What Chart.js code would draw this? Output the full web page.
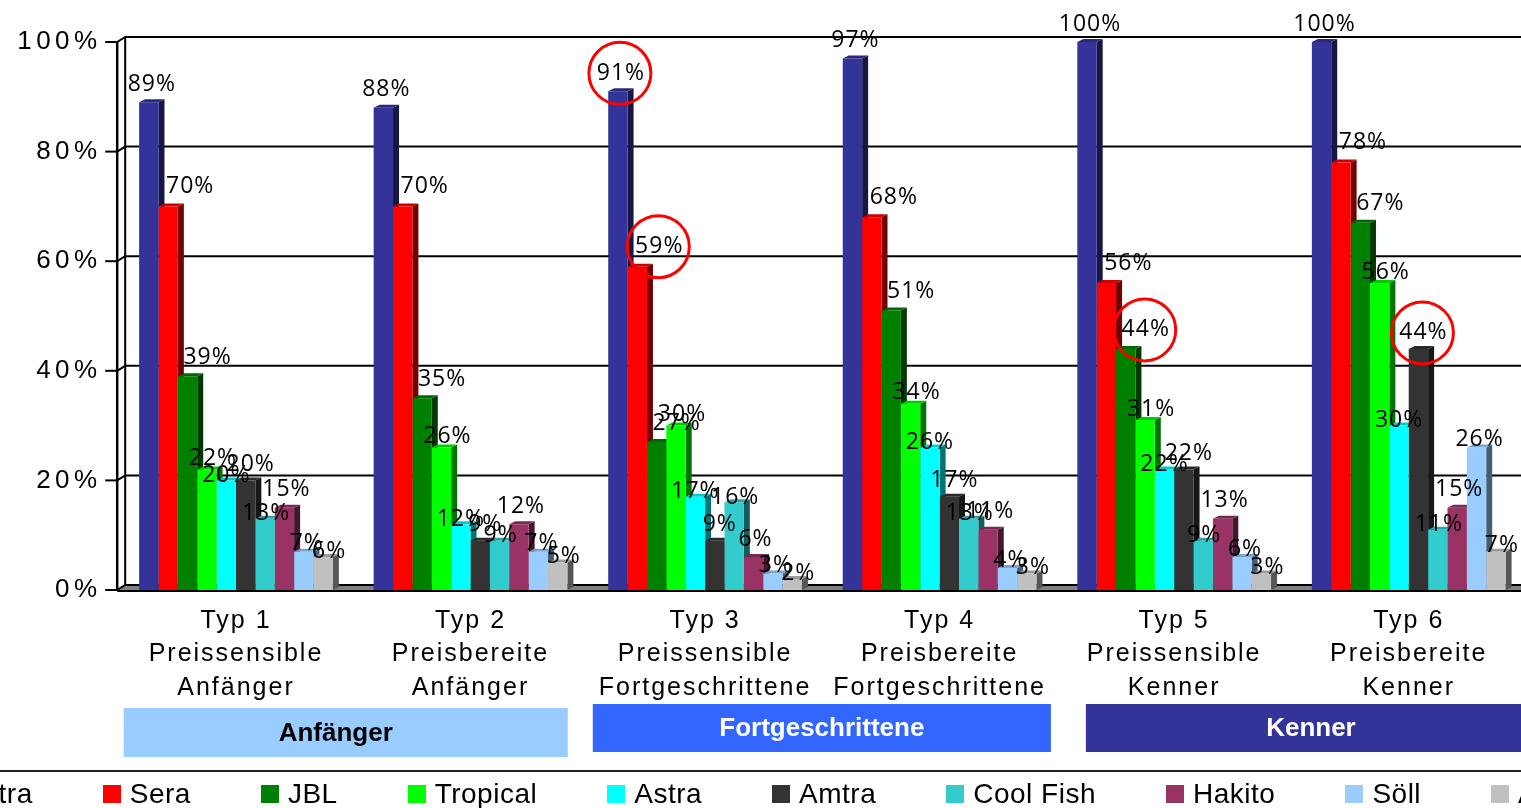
<!DOCTYPE html>
<html><head><meta charset="utf-8">
<script src="https://cdn.jsdelivr.net/npm/chart.js@4.4.0/dist/chart.umd.min.js"></script>
<style>
html,body{margin:0;padding:0;background:#fff;overflow:hidden;width:1521px;height:808px;}
#wrap{position:absolute;left:0;top:0;width:1526px;height:808px;}
#legendLine{position:absolute;left:0;top:770px;width:1521px;height:2px;background:#222;}
#legend{position:absolute;left:-59px;top:778px;display:flex;white-space:nowrap;font:28px "Liberation Sans",Arial,sans-serif;letter-spacing:0.5px;line-height:32px;color:#000;}
.item{display:flex;align-items:center;margin-right:70px;}
.sw{width:18px;height:18px;margin-right:9px;flex:none;}
</style></head><body>
<div id="wrap"><canvas id="c" width="1526" height="808"></canvas></div>
<div id="legendLine"></div>
<div id="legend"></div>
<script>
// ---------- data ----------
const categories = [
  ['Typ 1','Preissensible','Anfänger'],
  ['Typ 2','Preisbereite','Anfänger'],
  ['Typ 3','Preissensible','Fortgeschrittene'],
  ['Typ 4','Preisbereite','Fortgeschrittene'],
  ['Typ 5','Preissensible','Kenner'],
  ['Typ 6','Preisbereite','Kenner']
];
const seriesNames = ['Tetra','Sera','JBL','Tropical','Astra','Amtra','Cool Fish','Hakito','Söll','Aquarian'];
const tetra    = [89, 88, 91, 97, 100, 100];
const sera     = [70, 70, 59, 68, 56, 78];
const jbl      = [39, 35, 27, 51, 44, 67];
const tropical = [22, 26, 30, 34, 31, 56];
const astra    = [20, 12, 17, 26, 22, 30];
const amtra    = [20, 9, 9, 17, 22, 44];
const coolFish = [13, 9, 16, 13, 9, 11];
const hakito   = [15, 12, 6, 11, 13, 15];
const soell    = [7, 7, 3, 4, 6, 26];
const aquarian = [6, 5, 2, 3, 3, 7];
const seriesValues = [tetra, sera, jbl, tropical, astra, amtra, coolFish, hakito, soell, aquarian];
const yTickLabels = ['0%','20%','40%','60%','80%','100%'];
const groupLabels = ['Anfänger','Fortgeschrittene','Kenner'];
const groupRanges = [[0,1],[2,3],[4,5]];
const highlights = [{series:0, cat:2},{series:1, cat:2},{series:2, cat:4},{series:5, cat:5}];

// ---------- styles ----------
const colors = ['#333399','#FF0000','#008000','#00FF00','#00FFFF','#333333','#33CCCC','#993366','#99CCFF','#C0C0C0'];
const labelDx   = [3, 22, 20, 6, 0, 5, 1, 2, 3, 6];
const labelLift = [18, 20, 19, 11, 5, 16, 5, 18, 8, 6];
const bandStyle = [
  {fill:'#99CCFF', text:'#000', inL:5,  inR:20, top:708, h:49, tdx:-10},
  {fill:'#3366FF', text:'#fff', inL:5,  inR:6,  top:704, h:48, tdx:0},
  {fill:'#333399', text:'#fff', inL:29, inR:-10, top:704, h:48, tdx:0}
];
const DEPTH = {dx:6, dy:3};
const WALL = {dx:8, dy:5};

function shade(hex, f){
  const n = parseInt(hex.slice(1),16);
  const r = Math.round(((n>>16)&255)*f), g = Math.round(((n>>8)&255)*f), b = Math.round((n&255)*f);
  return `rgb(${r},${g},${b})`;
}

// legend (HTML)
const lg = document.getElementById('legend');
seriesNames.forEach((n,i)=>{
  const it = document.createElement('div'); it.className='item';
  const sw = document.createElement('div'); sw.className='sw'; sw.style.background=colors[i];
  const tx = document.createElement('span'); tx.textContent = n;
  it.appendChild(sw); it.appendChild(tx); lg.appendChild(it);
});

const threeD = {
  id:'threeD',
  beforeDraw(chart){
    const spacing = {x:'2px', y:'4.5px'};
    for (const id of ['x','y']) {
      const s = chart.scales[id];
      if (s && !s._lsPatched) {
        const orig = s.drawLabels.bind(s);
        s.drawLabels = (a)=>{ const c = chart.ctx; c.save(); c.letterSpacing = spacing[id]; orig(a); c.restore(); };
        s._lsPatched = true;
      }
    }
  },
  beforeDatasetsDraw(chart){
    const {ctx, chartArea:a, scales:{x, y}} = chart;
    const fx = a.left - 1.5, bx = fx + WALL.dx, right = a.right + 30;
    ctx.save();
    // floor
    ctx.fillStyle = '#808080';
    ctx.beginPath(); ctx.moveTo(fx, a.bottom); ctx.lineTo(bx, a.bottom - WALL.dy); ctx.lineTo(right, a.bottom - WALL.dy); ctx.lineTo(right, a.bottom); ctx.closePath(); ctx.fill();
    // back gridlines + connectors + tick marks
    ctx.strokeStyle = '#000'; ctx.lineWidth = 2;
    y.ticks.forEach(t=>{
      const py = y.getPixelForValue(t.value);
      ctx.beginPath(); ctx.moveTo(fx - 12, py); ctx.lineTo(fx, py); ctx.stroke();
      ctx.beginPath(); ctx.moveTo(fx, py); ctx.lineTo(bx, py - WALL.dy); ctx.lineTo(right, py - WALL.dy); ctx.stroke();
    });
    // vertical axis lines
    const top = y.getPixelForValue(100), bot = y.getPixelForValue(0);
    ctx.lineWidth = 2.5;
    ctx.beginPath(); ctx.moveTo(fx, top); ctx.lineTo(fx, bot); ctx.stroke();
    ctx.lineWidth = 2;
    ctx.beginPath(); ctx.moveTo(bx, top - WALL.dy); ctx.lineTo(bx, bot - WALL.dy); ctx.stroke();
    // bar sides and tops
    const bars = [];
    chart.data.datasets.forEach((ds,i)=>{
      chart.getDatasetMeta(i).data.forEach(b=>{
        const p = b.getProps(['x','y','base','width'], true);
        bars.push({i, l:p.x - p.width/2, r:p.x + p.width/2, t:p.y, b:p.base});
      });
    });
    const {dx, dy} = DEPTH;
    bars.forEach(o=>{
      ctx.fillStyle = shade(colors[o.i], 0.45);
      ctx.beginPath(); ctx.moveTo(o.r, o.t); ctx.lineTo(o.r+dx, o.t-dy); ctx.lineTo(o.r+dx, o.b-dy); ctx.lineTo(o.r, o.b); ctx.closePath(); ctx.fill();
    });
    bars.forEach(o=>{
      ctx.fillStyle = shade(colors[o.i], 0.8);
      ctx.beginPath(); ctx.moveTo(o.l, o.t); ctx.lineTo(o.r, o.t); ctx.lineTo(o.r+dx, o.t-dy); ctx.lineTo(o.l+dx, o.t-dy); ctx.closePath(); ctx.fill();
    });
    ctx.restore();
  },
  afterDatasetsDraw(chart){
    const {ctx, chartArea:a} = chart;
    ctx.save();
    // front floor edge
    ctx.strokeStyle = '#000'; ctx.lineWidth = 2;
    ctx.beginPath(); ctx.moveTo(a.left - 1.5, a.bottom + 1); ctx.lineTo(a.right + 30, a.bottom + 1); ctx.stroke();
    // data labels
    ctx.font = '23px "Open Sans", "Liberation Sans", sans-serif';
    ctx.letterSpacing = '1px';
    ctx.fillStyle = '#000'; ctx.textAlign = 'center'; ctx.textBaseline = 'middle';
    const pos = {};
    chart.data.datasets.forEach((ds,i)=>{
      chart.getDatasetMeta(i).data.forEach((b,j)=>{
        const lx = b.x + labelDx[i], ly = b.y - labelLift[i];
        pos[i+'_'+j] = {lx, ly};
        ctx.fillText(ds.data[j] + '%', lx, ly);
      });
    });
    // red circles
    ctx.letterSpacing = '0px';
    ctx.strokeStyle = '#FF0000'; ctx.lineWidth = 3;
    highlights.forEach(h=>{
      const p = pos[h.series+'_'+h.cat];
      ctx.beginPath(); ctx.arc(p.lx - 1, p.ly, 31, 0, Math.PI*2); ctx.stroke();
    });
    ctx.restore();
  },
  afterDraw(chart){
    const {ctx, chartArea:a, scales:{x}} = chart;
    const w = (a.right - a.left) / categories.length;
    ctx.save();
    ctx.font = 'bold 26px "Liberation Sans", Arial, sans-serif';
    ctx.textAlign = 'center'; ctx.textBaseline = 'middle';
    groupRanges.forEach((r,k)=>{
      const st = bandStyle[k];
      const x0 = x.getPixelForValue(r[0]) - w/2 + st.inL;
      const x1 = x.getPixelForValue(r[1]) + w/2 - st.inR;
      ctx.fillStyle = st.fill;
      ctx.fillRect(x0, st.top, x1 - x0, st.h);
      ctx.fillStyle = st.text;
      ctx.fillText(groupLabels[k], (x0 + x1)/2 + st.tdx, st.top + st.h/2 + 1);
    });
    ctx.restore();
  }
};

new Chart(document.getElementById('c'), {
  type:'bar',
  data:{
    labels: categories,
    datasets: seriesNames.map((n,i)=>({
      label:n, data:seriesValues[i], backgroundColor:colors[i], borderWidth:0,
      categoryPercentage:0.826, barPercentage:1
    }))
  },
  options:{
    responsive:false, animation:false, devicePixelRatio:1,
    layout:{padding:{top:42, bottom:0, left:0, right:0}},
    plugins:{legend:{display:false}, tooltip:{enabled:false}},
    scales:{
      x:{
        grid:{display:false, drawTicks:false}, border:{display:false},
        ticks:{font:{family:'"Liberation Sans", Arial, sans-serif', size:25, lineHeight:1.34}, color:'#000', padding:14, maxRotation:0, autoSkip:false},
        afterFit(s){ s.height = 218; }
      },
      y:{
        min:0, max:100,
        grid:{display:false, drawTicks:false}, border:{display:false},
        ticks:{stepSize:20, font:{family:'"Liberation Sans", Arial, sans-serif', size:26}, color:'#000', padding:17,
               callback:(v,i)=>yTickLabels[i]},
        afterFit(s){ s.width = 118.7; }
      }
    }
  },
  plugins:[threeD]
});
</script>
</body></html>
